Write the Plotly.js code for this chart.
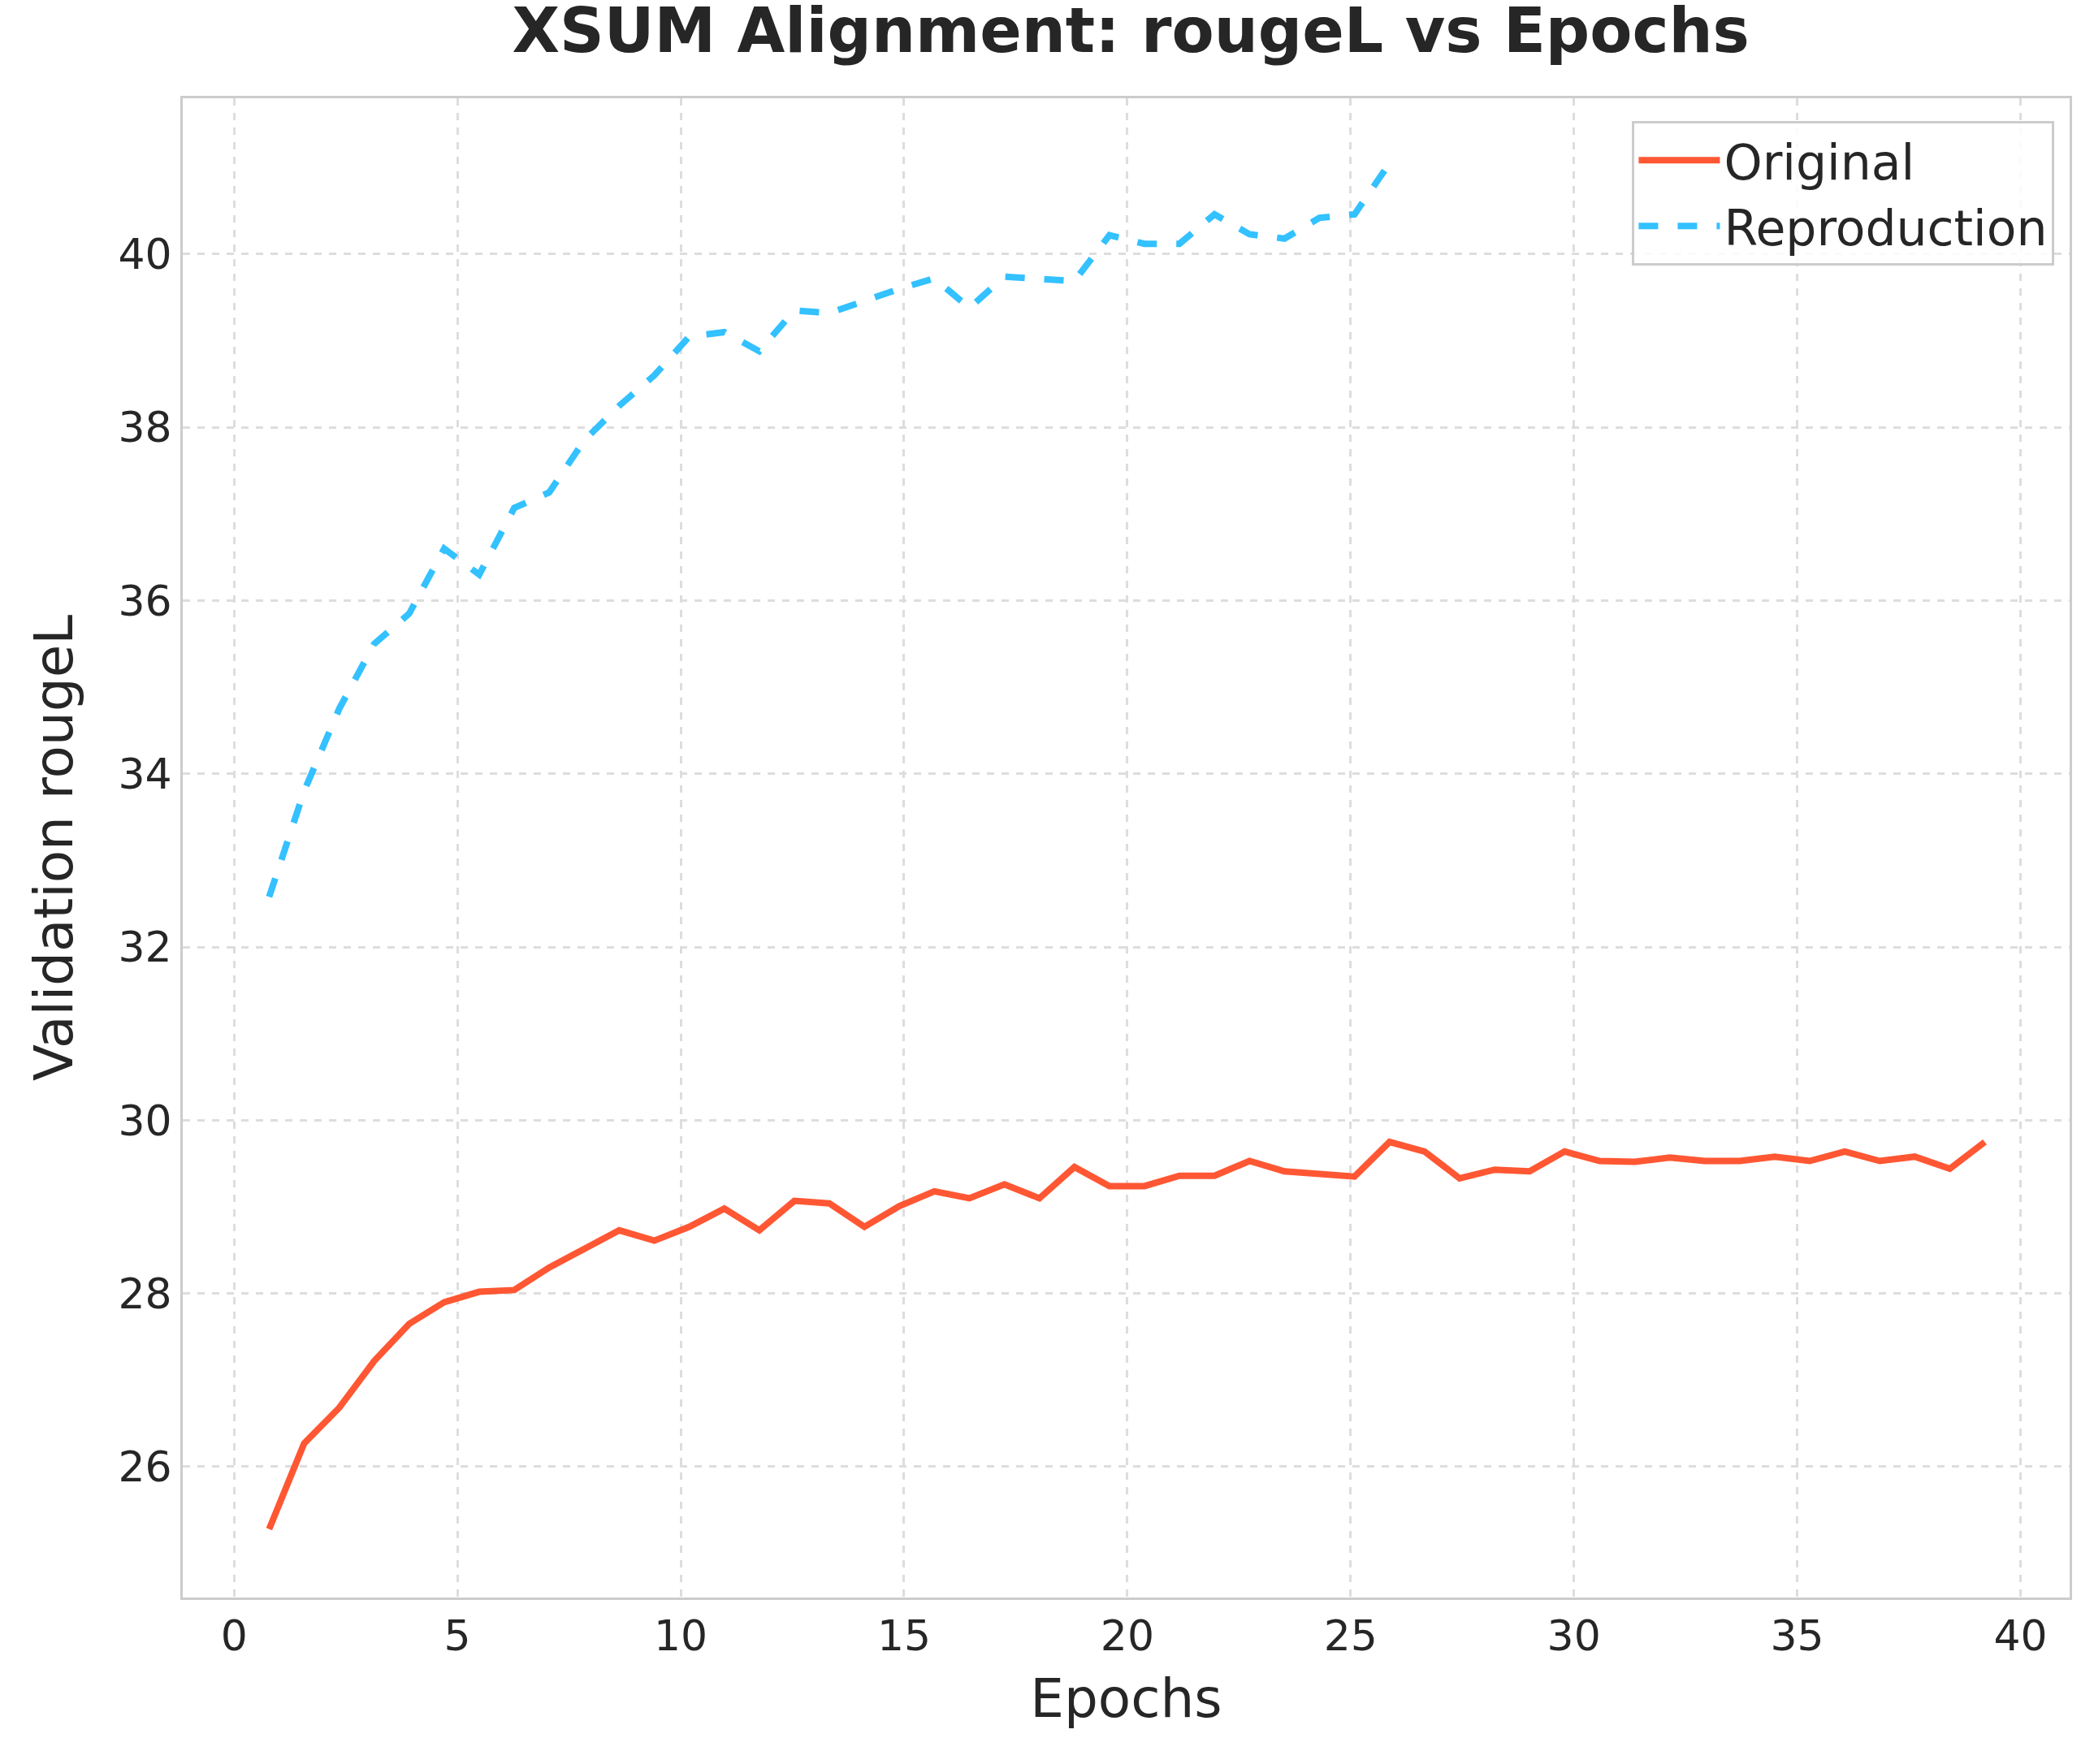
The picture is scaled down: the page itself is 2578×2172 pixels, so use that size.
<!DOCTYPE html>
<html>
<head>
<meta charset="utf-8">
<script src="https://cdn.plot.ly/plotly-3.0.1.min.js"></script>
<style>html,body{margin:0;padding:0;background:#fff}#chart{width:2578px;height:2172px}</style>
</head>
<body>
<div id="chart"></div>
<script>
const EPOCH_STEP = 0.784;

const originalRougeL = [
  25.28, 26.27, 26.68, 27.22, 27.65, 27.9, 28.02, 28.04, 28.3, 28.52,
  28.73, 28.61, 28.77, 28.98, 28.73, 29.07, 29.04, 28.77, 29.01, 29.18,
  29.1, 29.26, 29.1, 29.46, 29.24, 29.24, 29.36, 29.36, 29.53, 29.41,
  29.38, 29.35, 29.75, 29.64, 29.33, 29.43, 29.41, 29.64, 29.53, 29.52,
  29.57, 29.53, 29.53, 29.58, 29.53, 29.64, 29.53, 29.58, 29.44, 29.75
];

const reproRougeL = [
  32.58, 33.8, 34.75, 35.5, 35.85, 36.6, 36.3, 37.07, 37.25, 37.85,
  38.25, 38.6, 39.05, 39.1, 38.88, 39.35, 39.32, 39.46, 39.6, 39.72,
  39.38, 39.74, 39.72, 39.69, 40.22, 40.12, 40.12, 40.46, 40.23, 40.18,
  40.42, 40.46, 41.05
];

const xTicks = [0, 5, 10, 15, 20, 25, 30, 35, 40];
const yTicks = [26, 28, 30, 32, 34, 36, 38, 40];

const epochsFor = arr => arr.map((_, i) => Math.round((i + 1) * EPOCH_STEP * 1000) / 1000);

const FONT = 'DejaVu Sans, sans-serif';
const TEXT = '#262626';

const traces = [
  {
    x: epochsFor(originalRougeL), y: originalRougeL,
    type: 'scatter', mode: 'lines', name: 'Original',
    line: { color: '#FF5733', width: 8 }
  },
  {
    x: epochsFor(reproRougeL), y: reproRougeL,
    type: 'scatter', mode: 'lines', name: 'Reproduction',
    line: { color: '#33C1FF', width: 8, dash: 'dash' }
  }
];

const axisCommon = {
  showline: true, mirror: true, linecolor: '#cccccc', linewidth: 3,
  gridcolor: '#dddddd', griddash: 'dash', gridwidth: 3,
  zeroline: false, ticks: '', tickfont: { size: 52, color: TEXT, family: FONT }
};

const layout = {
  width: 2578, height: 2172,
  paper_bgcolor: '#fff', plot_bgcolor: '#fff',
  margin: { l: 225, r: 30, t: 121, b: 205 },
  title: {
    text: '<b>XSUM Alignment: rougeL vs Epochs</b>',
    font: { size: 76, color: TEXT, family: FONT },
    x: 0.54, xanchor: 'center', y: 0.995, yanchor: 'top'
  },
  xaxis: Object.assign({}, axisCommon, {
    range: [-1.15, 41.1], tickvals: xTicks,
    title: { text: 'Epochs', font: { size: 66, color: TEXT, family: FONT }, standoff: 25 }
  }),
  yaxis: Object.assign({}, axisCommon, {
    range: [24.49, 41.8], tickvals: yTicks,
    title: { text: 'Validation rougeL', font: { size: 66, color: TEXT, family: FONT }, standoff: 35 }
  }),
  legend: {
    x: 0.992, y: 0.985, xanchor: 'right', yanchor: 'top',
    bgcolor: 'rgba(255,255,255,0.85)', bordercolor: '#cccccc', borderwidth: 3,
    itemwidth: 100, tracegroupgap: 10,
    font: { size: 60, color: TEXT, family: FONT }
  },
  showlegend: true
};

Plotly.newPlot('chart', traces, layout, { displayModeBar: false });
</script>
</body>
</html>
